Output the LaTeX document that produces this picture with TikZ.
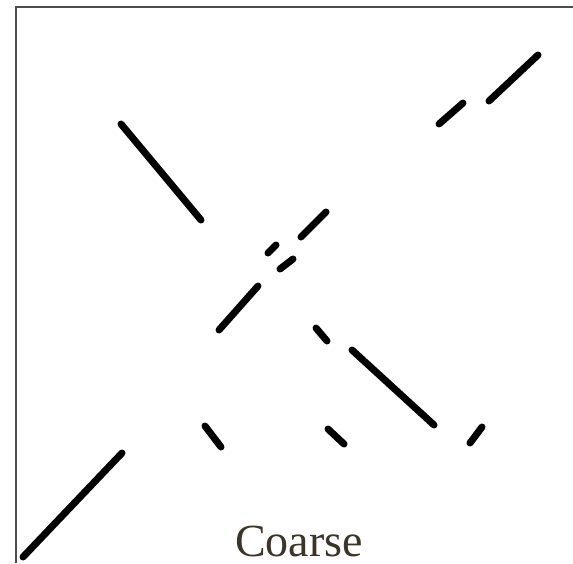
\documentclass[tikz,border=0pt]{standalone}
\usepackage{fontspec}
\setmainfont{Liberation Serif}
\usepackage{tikz}
\usepackage{xcolor}
\definecolor{inkgray}{HTML}{3B3428}

\begin{document}
\begin{tikzpicture}[x=1pt,y=-1pt,seg/.style={line width=7pt,line cap=round}]
  \useasboundingbox (0,0) rectangle (573,563);
  \draw[line width=1.5pt,black!70] (16,563) -- (16,7) -- (573,7);
  \draw[seg] (121,124) -- (201,220);
  \draw[seg] (439,124) -- (463,103);
  \draw[seg] (489,101) -- (538,55);
  \draw[seg] (301,237) -- (326,212);
  \draw[seg] (268,253) -- (276,245);
  \draw[seg] (280,269) -- (293,259);
  \draw[seg] (219,330) -- (258,286);
  \draw[seg] (122,453) -- (23,557);
  \draw[seg] (205,426) -- (221,447);
  \draw[seg] (316,328) -- (327,341);
  \draw[seg] (352,350) -- (434,425);
  \draw[seg] (328,429) -- (344,444);
  \draw[seg] (470,443) -- (482,427);
  \node[text=inkgray,font=\fontsize{46}{50}\selectfont,anchor=base,inner sep=0pt,text depth=0pt] (lbl) at (299,556) {Coarse};
\end{tikzpicture}
\end{document}
